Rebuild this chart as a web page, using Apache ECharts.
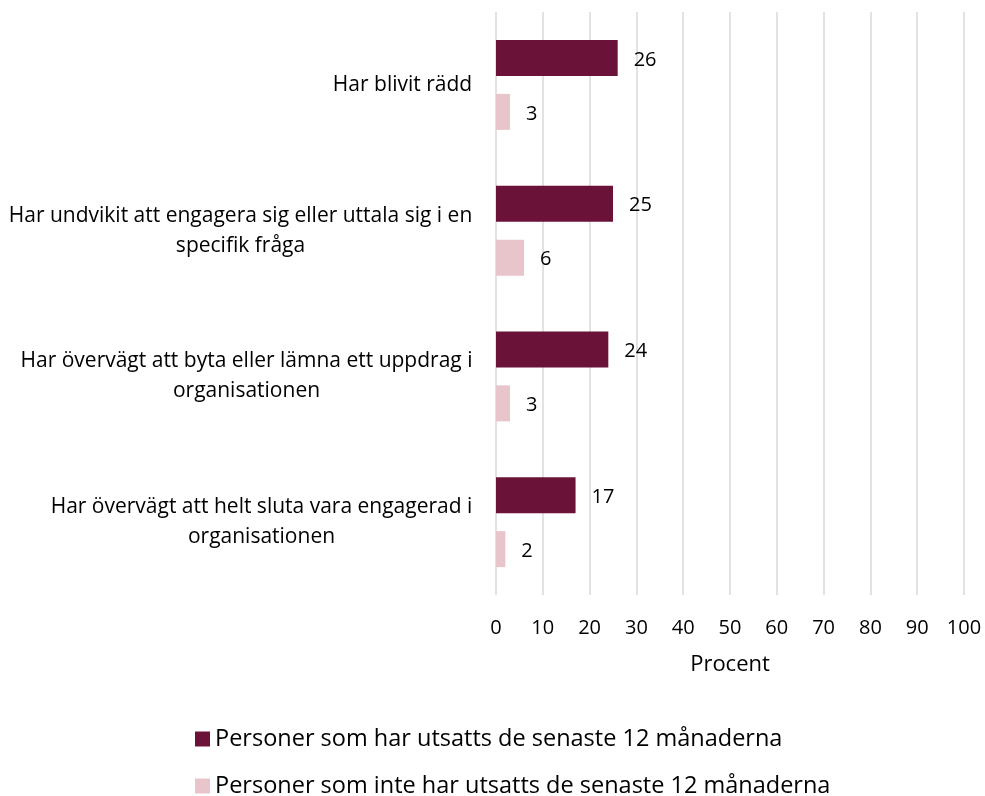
<!DOCTYPE html>
<html>
<head>
<meta charset="utf-8">
<script src="https://cdn.jsdelivr.net/npm/echarts@6/dist/echarts.min.js"></script>
<style>
  html, body { margin: 0; padding: 0; background: #fff; }
  #main { width: 985px; height: 796px; }
</style>
</head>
<body>
<div id="main"></div>
<script>
// data
var categories = [
  'Har blivit rädd',
  'Har undvikit att engagera sig eller uttala sig i en\nspecifik fråga',
  'Har övervägt att byta eller lämna ett uppdrag i\norganisationen',
  'Har övervägt att helt sluta vara engagerad i\norganisationen'
];
var seriesNames = [
  'Personer som har utsatts de senaste 12 månaderna',
  'Personer som inte har utsatts de senaste 12 månaderna'
];
var utsatta = [26, 25, 24, 17];
var ejUtsatta = [3, 6, 3, 2];
var xTicks = [0, 10, 20, 30, 40, 50, 60, 70, 80, 90, 100];
var colors = ['#6b1238', '#e8c4cb'];

var FONT = 'Open Sans';
var catSize = 21;

// measure lines so wrapped labels can be centred like in excel
var ctx = document.createElement('canvas').getContext('2d');
ctx.font = catSize + 'px "' + FONT + '"';
var rich = {};
categories.forEach(function (c, i) {
  var w = 0;
  c.split('\n').forEach(function (l) {
    w = Math.max(w, ctx.measureText(l).width);
  });
  rich['c' + i] = {
    width: Math.ceil(w) + 1,
    align: 'center',
    fontFamily: FONT,
    fontSize: catSize,
    lineHeight: 30,
    color: '#000'
  };
});

var chart = echarts.init(document.getElementById('main'), null, { renderer: 'canvas' });

// one legend per row, excel stacks them
function legendRow(i, top) {
  return {
    left: 190,
    top: top,
    itemWidth: 15,
    itemHeight: 15,
    itemGap: 7,
    icon: 'rect',
    selectedMode: false,
    textStyle: { fontFamily: FONT, fontSize: 23.5, color: '#000' },
    data: [seriesNames[i]]
  };
}

var option = {
  animation: false,
  textStyle: { fontFamily: FONT },
  grid: { left: 496, right: 21, top: 12, bottom: 201, containLabel: false },
  legend: [legendRow(0, 722), legendRow(1, 769)],
  xAxis: {
    type: 'value',
    min: 0,
    max: 100,
    interval: 10,
    name: 'Procent',
    nameLocation: 'middle',
    nameGap: 59,
    nameTextStyle: { fontFamily: FONT, fontSize: 22, color: '#000' },
    axisLine: { show: false },
    axisTick: { show: false },
    axisLabel: {
      margin: 23,
      fontFamily: FONT,
      fontSize: 20,
      color: '#000',
      formatter: function (v) { return xTicks.indexOf(v) >= 0 ? String(v) : ''; }
    },
    splitLine: { show: true, lineStyle: { color: '#d9d9d9', width: 1.5 } }
  },
  yAxis: {
    type: 'category',
    inverse: true,
    data: categories,
    axisLine: { show: false },
    axisTick: { show: false },
    axisLabel: {
      margin: 23,
      formatter: function (v, i) {
        return v.split('\n').map(function (l) { return '{c' + i + '|' + l + '}'; }).join('\n');
      },
      rich: rich
    }
  },
  series: [
    {
      name: seriesNames[0],
      type: 'bar',
      data: utsatta,
      barWidth: 36,
      barGap: '50%',
      itemStyle: { color: colors[0] },
      label: {
        show: true, position: 'right', distance: 16,
        fontFamily: FONT, fontSize: 20, color: '#000', offset: [0, 2]
      }
    },
    {
      name: seriesNames[1],
      type: 'bar',
      data: ejUtsatta,
      barWidth: 36,
      barGap: '50%',
      itemStyle: { color: colors[1] },
      label: {
        show: true, position: 'right', distance: 16,
        fontFamily: FONT, fontSize: 20, color: '#000', offset: [0, 2]
      }
    }
  ]
};

chart.setOption(option);
</script>
</body>
</html>
